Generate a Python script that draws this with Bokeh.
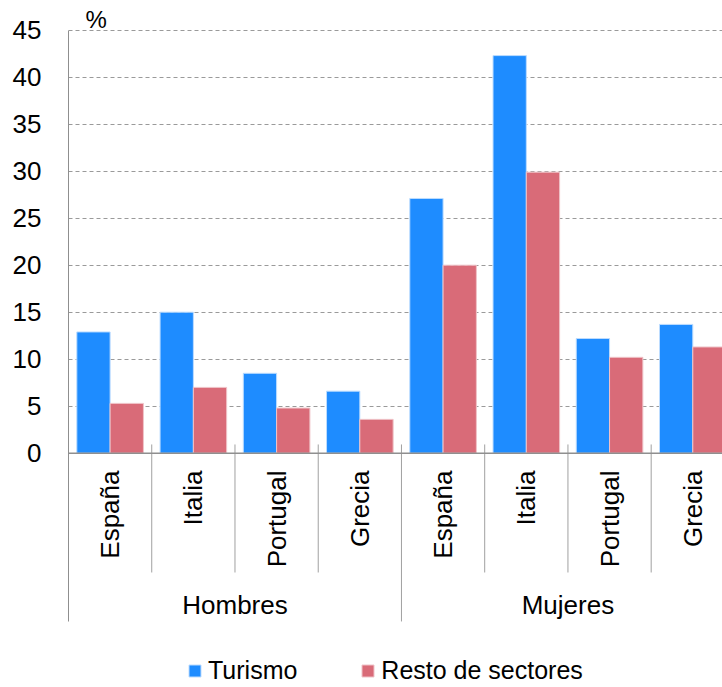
from math import pi
from bokeh.plotting import figure
from bokeh.models import Range1d, FixedTicker, ColumnDataSource, Legend, LegendItem, Span
from bokeh.core.properties import value
from bokeh.embed import file_html
from bokeh.resources import INLINE

# ---- data ----
countries = ["España", "Italia", "Portugal", "Grecia", "España", "Italia", "Portugal", "Grecia"]
groups = ["Hombres", "Mujeres"]
turismo = [12.9, 15.0, 8.5, 6.6, 27.1, 42.3, 12.2, 13.7]
resto = [5.3, 7.0, 4.8, 3.6, 20.0, 29.9, 10.2, 11.3]
y_ticks = [0, 5, 10, 15, 20, 25, 30, 35, 40, 45]
series_names = ["Turismo", "Resto de sectores"]
unit_label = "%"

# ---- style / layout ----
FONT = "Liberation Sans"
BLUE = "#1E8CFF"
RED = "#D96B78"
GRAY = "#8f8f8f"
W, H = 722, 687
LEFT = 68
PX_PER_UNIT = 9.4
CAT_PX = 83.24
ZERO_PX = 452.7  # distance of value 0 from top of figure

y_end = ZERO_PX / PX_PER_UNIT
y_start = -(H - ZERO_PX) / PX_PER_UNIT
x_end = (W - LEFT) / CAT_PX

p = figure(width=W, height=H, output_backend="svg", toolbar_location=None,
           x_range=Range1d(0, x_end), y_range=Range1d(y_start, y_end),
           x_axis_location=None, min_border_left=LEFT, min_border_right=0,
           min_border_top=0, min_border_bottom=0)
p.outline_line_color = None
p.background_fill_color = "white"
p.border_fill_color = "white"

# y axis
yax = p.yaxis[0]
yax.ticker = FixedTicker(ticks=y_ticks)
yax.bounds = (-17.9, max(y_ticks))
yax.axis_line_color = GRAY
yax.axis_line_width = 1
yax.major_tick_line_color = None
yax.minor_tick_line_color = None
yax.major_label_standoff = 21
yax.major_label_text_font = FONT
yax.major_label_text_font_size = "26px"
yax.major_label_text_color = "black"

p.ygrid.ticker = FixedTicker(ticks=y_ticks)
p.ygrid.grid_line_color = "#9a9a9a"
p.ygrid.grid_line_dash = "4 3"
p.ygrid.grid_line_width = 1
p.xgrid.visible = False

n = len(countries)
xs_t = [i + 0.3 for i in range(n)]
xs_r = [i + 0.7 for i in range(n)]
src = ColumnDataSource(dict(xt=xs_t, xr=xs_r, turismo=turismo, resto=resto))

r1 = p.vbar(x="xt", top="turismo", width=0.4, source=src, fill_color=BLUE,
            line_color="#bcdcff", line_width=1)
r2 = p.vbar(x="xr", top="resto", width=0.4, source=src, fill_color=RED,
            line_color="#efc3c8", line_width=1)

# baseline
p.add_layout(Span(location=0, dimension="width", line_color=GRAY, line_width=1.5))

# separators
inner = [1, 2, 3, 5, 6, 7]
outer = [4, 8]
p.segment(x0=inner, y0=[0.93] * len(inner), x1=inner, y1=[-12.69] * len(inner),
          line_color="#a0a0a0", line_width=1)
p.segment(x0=outer, y0=[0.93] * len(outer), x1=outer, y1=[-17.9] * len(outer),
          line_color="#a0a0a0", line_width=1)

# category labels
p.text(x=[i + 0.5 for i in range(n)], y=[-1.84] * n, text=countries, angle=pi / 2,
       text_align="right", text_baseline="middle", text_font=value(FONT),
       text_font_size="26px", text_color="black")

# group labels
p.text(x=[2.0, 6.0], y=[-16.2, -16.2], text=groups, text_align="center",
       text_baseline="middle", text_font=value(FONT), text_font_size="26px",
       text_color="black")

# unit label
p.text(x=[0.204], y=[46.1], text=[unit_label], text_align="left",
       text_baseline="alphabetic", text_font=value(FONT), text_font_size="24px",
       text_color="black")

legend = Legend(items=[LegendItem(label=series_names[0], renderers=[r1]),
                       LegendItem(label=series_names[1], renderers=[r2])],
                orientation="horizontal", location=(119, 2),
                glyph_width=15, glyph_height=15, label_standoff=6, spacing=63,
                padding=0, margin=0, border_line_color=None,
                background_fill_alpha=0, label_text_font=FONT,
                label_text_font_size="25px", label_text_color="black")
p.add_layout(legend, "center")

open("out.html", "w").write(file_html(p, INLINE))
